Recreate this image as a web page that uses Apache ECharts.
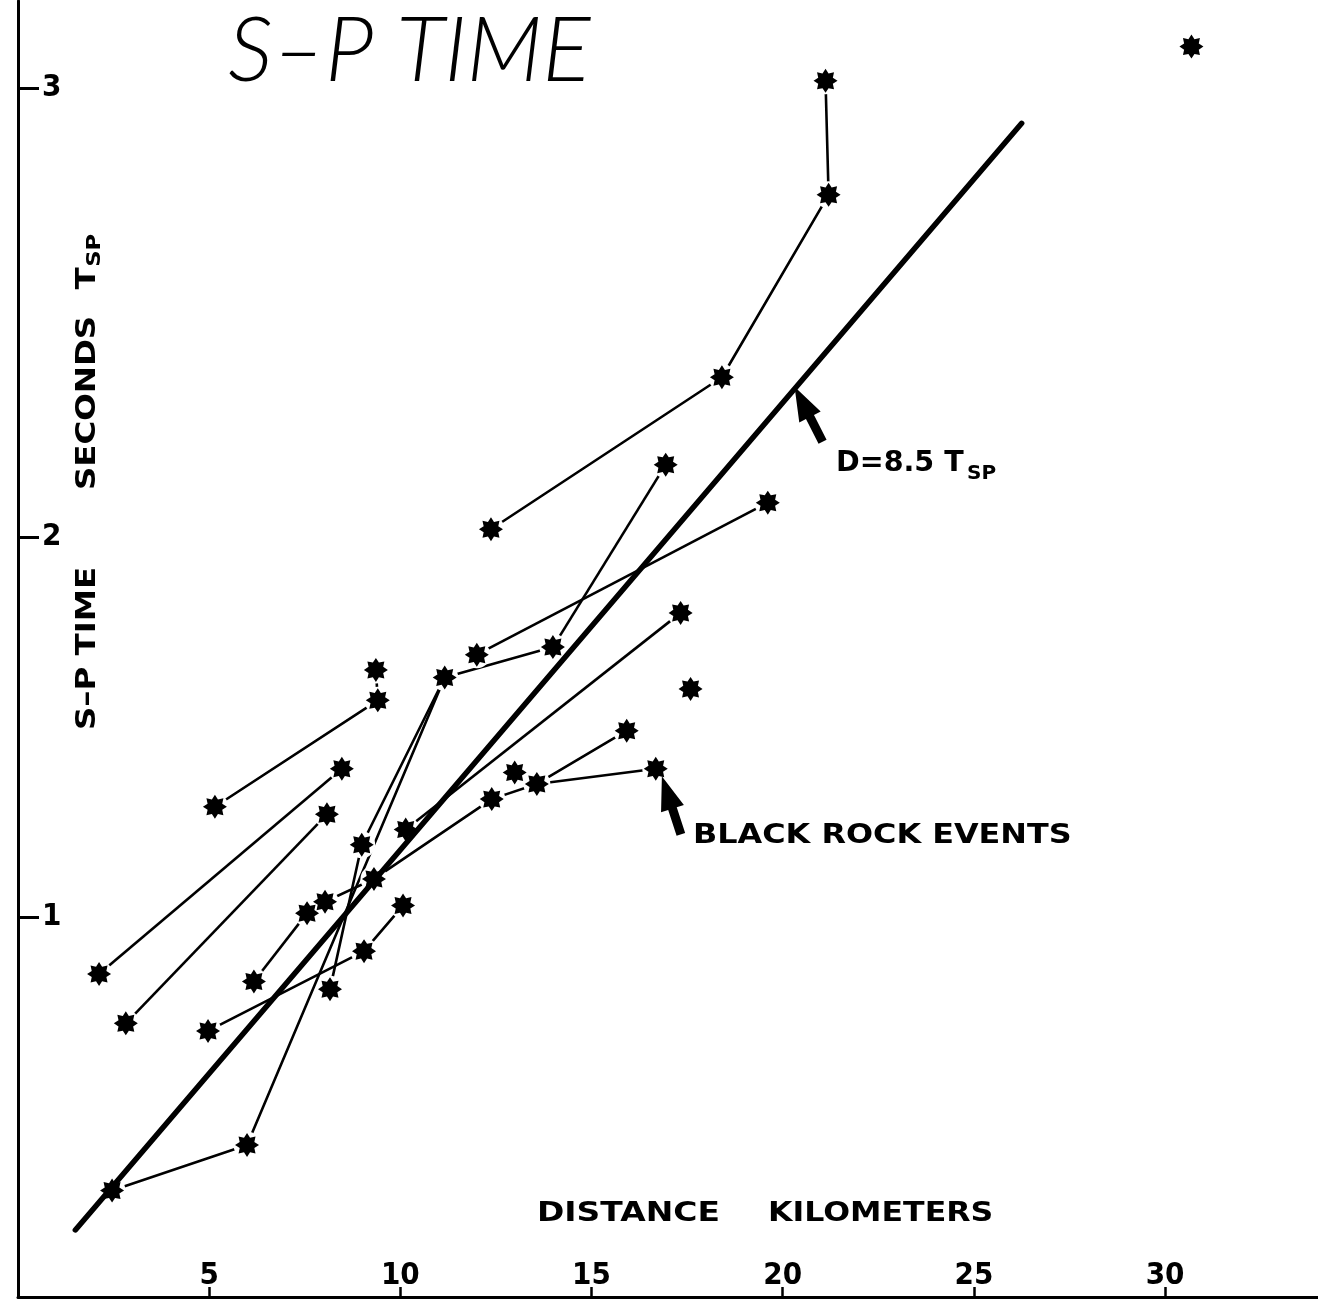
<!DOCTYPE html>
<html>
<head>
<meta charset="utf-8">
<script src="https://cdn.jsdelivr.net/npm/echarts@6/dist/echarts.min.js"></script>
<style>
  html, body { margin: 0; padding: 0; background: #fff; }
  #chart { width: 1318px; height: 1300px; }
</style>
</head>
<body>
<div id="chart"></div>
<script>
// Epicentral distance (km) and S-P interval (s) of each plotted reading
const distanceKm = [30.69, 21.12, 21.20, 18.41, 12.37, 16.94, 19.61, 17.33, 17.59, 13.99,
                    12.00, 11.16, 9.36, 9.41, 8.47, 8.08, 5.15, 15.92, 16.68, 12.99,
                    13.57, 12.39, 8.99, 9.31, 10.14, 8.03, 7.56, 10.07, 9.05, 6.17,
                    8.16, 2.12, 2.82, 4.97, 5.99, 2.46];
const spSeconds  = [3.29, 3.20, 2.90, 2.42, 2.02, 2.19, 2.09, 1.80, 1.60, 1.71,
                    1.69, 1.63, 1.65, 1.57, 1.39, 1.27, 1.29, 1.49, 1.39, 1.38,
                    1.35, 1.31, 1.19, 1.10, 1.23, 1.04, 1.01, 1.03, 0.91, 0.83,
                    0.81, 0.85, 0.72, 0.70, 0.40, 0.28];

// Readings joined by thin lines (indices into the two arrays above)
const tracks = [
  [4, 3, 2, 1],
  [9, 5],
  [10, 6],
  [24, 7],
  [35, 34, 11, 9],
  [30, 22, 11],
  [16, 13, 12],
  [31, 14],
  [32, 15],
  [33, 28, 27],
  [29, 26],
  [25, 23, 21, 20, 17],
  [20, 18]
];

// Fitted relation D = 8.5 Tsp and the distance span it is drawn over
const fitRatio = 8.5;
const fitSpanKm = [1.5, 26.25];

// Axis ticks
const xTickValues = [5, 10, 15, 20, 25, 30];
const yTickValues = [1, 2, 3.18];
const yTickLabels = ['1', '2', '3'];

// Where the two annotation arrows point (km, s)
const fitArrowTarget = [20.31, 2.395];
const blackRockTarget = [16.84, 1.37];

const STAR = 'path://M50 0 L62.63 19.51 L85.36 14.64 L80.49 37.37 L100 50 L80.49 62.63 L85.36 85.36 L62.63 80.49 L50 100 L37.37 80.49 L14.64 85.36 L19.51 62.63 L0 50 L19.51 37.37 L14.64 14.64 L37.37 19.51 Z';
const BOLD = '"DejaVu Sans", "Liberation Sans", sans-serif';
const NARROW = '"Liberation Sans Narrow", "DejaVu Sans Condensed", "Liberation Sans", sans-serif';

const points = distanceKm.map((d, i) => [d, spSeconds[i]]);

const chart = echarts.init(document.getElementById('chart'), null, { renderer: 'canvas' });

const trackSeries = tracks.map((t, k) => ({
  type: 'line',
  name: 'track' + k,
  data: t.map(i => points[i]),
  symbol: 'none',
  showSymbol: false,
  lineStyle: { color: '#000', width: 2.6 },
  z: 2,
  silent: true
}));

chart.setOption({
  animation: false,
  backgroundColor: '#fff',
  grid: { left: 18, right: 0, top: 1, bottom: 3, containLabel: false, outerBoundsMode: 'none' },
  xAxis: {
    type: 'value',
    min: 0,
    max: 34,
    interval: 5,
    axisLine: { show: true, onZero: false, lineStyle: { color: '#000', width: 3 } },
    axisTick: { show: true, inside: true, length: 10, customValues: xTickValues,
                lineStyle: { color: '#000', width: 2.5 } },
    axisLabel: { show: true, inside: true, margin: 6, customValues: xTickValues,
                 color: '#000', fontWeight: 'bold', fontSize: 31, fontFamily: NARROW },
    splitLine: { show: false }
  },
  yAxis: {
    type: 'value',
    min: 0,
    max: 3.41,
    axisLine: { show: true, onZero: false, lineStyle: { color: '#000', width: 3 } },
    axisTick: { show: true, inside: true, length: 21, customValues: yTickValues,
                lineStyle: { color: '#000', width: 3 } },
    axisLabel: { show: true, inside: true, margin: 24, customValues: yTickValues,
                 formatter: v => yTickLabels[yTickValues.indexOf(v)],
                 color: '#000', fontWeight: 'bold', fontSize: 31, fontFamily: NARROW },
    splitLine: { show: false }
  },
  series: [
    ...trackSeries,
    {
      // white ring that leaves a small gap where lines meet a star
      type: 'scatter',
      name: 'gap',
      data: points,
      symbol: 'circle',
      symbolSize: 27,
      itemStyle: { color: '#fff', opacity: 1 },
      z: 3,
      silent: true
    },
    {
      type: 'line',
      name: 'D = 8.5 Tsp',
      data: fitSpanKm.map(d => [d, d / fitRatio]),
      symbol: 'none',
      showSymbol: false,
      lineStyle: { color: '#000', width: 5.5, cap: 'round' },
      z: 4,
      silent: true
    },
    {
      type: 'scatter',
      name: 'readings',
      data: points,
      symbol: STAR,
      symbolSize: 24,
      itemStyle: { color: '#000', opacity: 1 },
      z: 5,
      silent: true
    }
  ]
});

// Filled arrow from tail to tip
function arrow(tip, tail) {
  const dx = tip[0] - tail[0], dy = tip[1] - tail[1];
  const len = Math.hypot(dx, dy);
  const ux = dx / len, uy = dy / len;
  const nx = -uy, ny = ux;
  const shaft = 4.5, head = 12, headLen = 34;
  const neck = [tip[0] - ux * headLen, tip[1] - uy * headLen];
  return {
    type: 'polygon',
    z: 10,
    shape: { points: [
      [tail[0] + nx * shaft, tail[1] + ny * shaft],
      [neck[0] + nx * shaft, neck[1] + ny * shaft],
      [neck[0] + nx * head, neck[1] + ny * head],
      tip,
      [neck[0] - nx * head, neck[1] - ny * head],
      [neck[0] - nx * shaft, neck[1] - ny * shaft],
      [tail[0] - nx * shaft, tail[1] - ny * shaft]
    ] },
    style: { fill: '#000' }
  };
}

const fitTip = chart.convertToPixel({ gridIndex: 0 }, fitArrowTarget);
const brTip = chart.convertToPixel({ gridIndex: 0 }, blackRockTarget);

function label(text, x, y, size, sx, extra) {
  return Object.assign({
    type: 'text', x: x, y: y, scaleX: sx || 1, z: 10,
    style: { text: text, fill: '#000', fontFamily: BOLD, fontWeight: 'bold', fontSize: size,
             align: 'left', verticalAlign: 'middle' }
  }, extra || {});
}

chart.setOption({
  graphic: [
    {
      type: 'text', x: 228, y: 52, z: 10,
      style: { text: 'S–P TIME', fill: '#000', fontFamily: 'Lato, Roboto, sans-serif',
               fontStyle: 'italic', fontWeight: 300, fontSize: 90,
               align: 'left', verticalAlign: 'middle' }
    },
    {
      type: 'group', x: 88, y: 730, rotation: Math.PI / 2, scaleX: 1.2,
      children: [
        label('S–P TIME', 0, 0, 27),
        label('SECONDS', 200, 0, 27),
        label('T', 367, 0, 27),
        label('SP', 386, 7, 19)
      ]
    },
    label('DISTANCE', 537, 1214, 27, 1.22),
    label('KILOMETERS', 768, 1214, 27, 1.17),
    label('D=8.5 T', 836, 464, 28, 1.02),
    label('SP', 967, 474, 20, 1.0),
    label('BLACK ROCK EVENTS', 693, 836, 27, 1.18),
    arrow(fitTip, [fitTip[0] + 28, fitTip[1] + 55]),
    arrow(brTip, [brTip[0] + 19, brTip[1] + 58])
  ]
});
</script>
</body>
</html>
